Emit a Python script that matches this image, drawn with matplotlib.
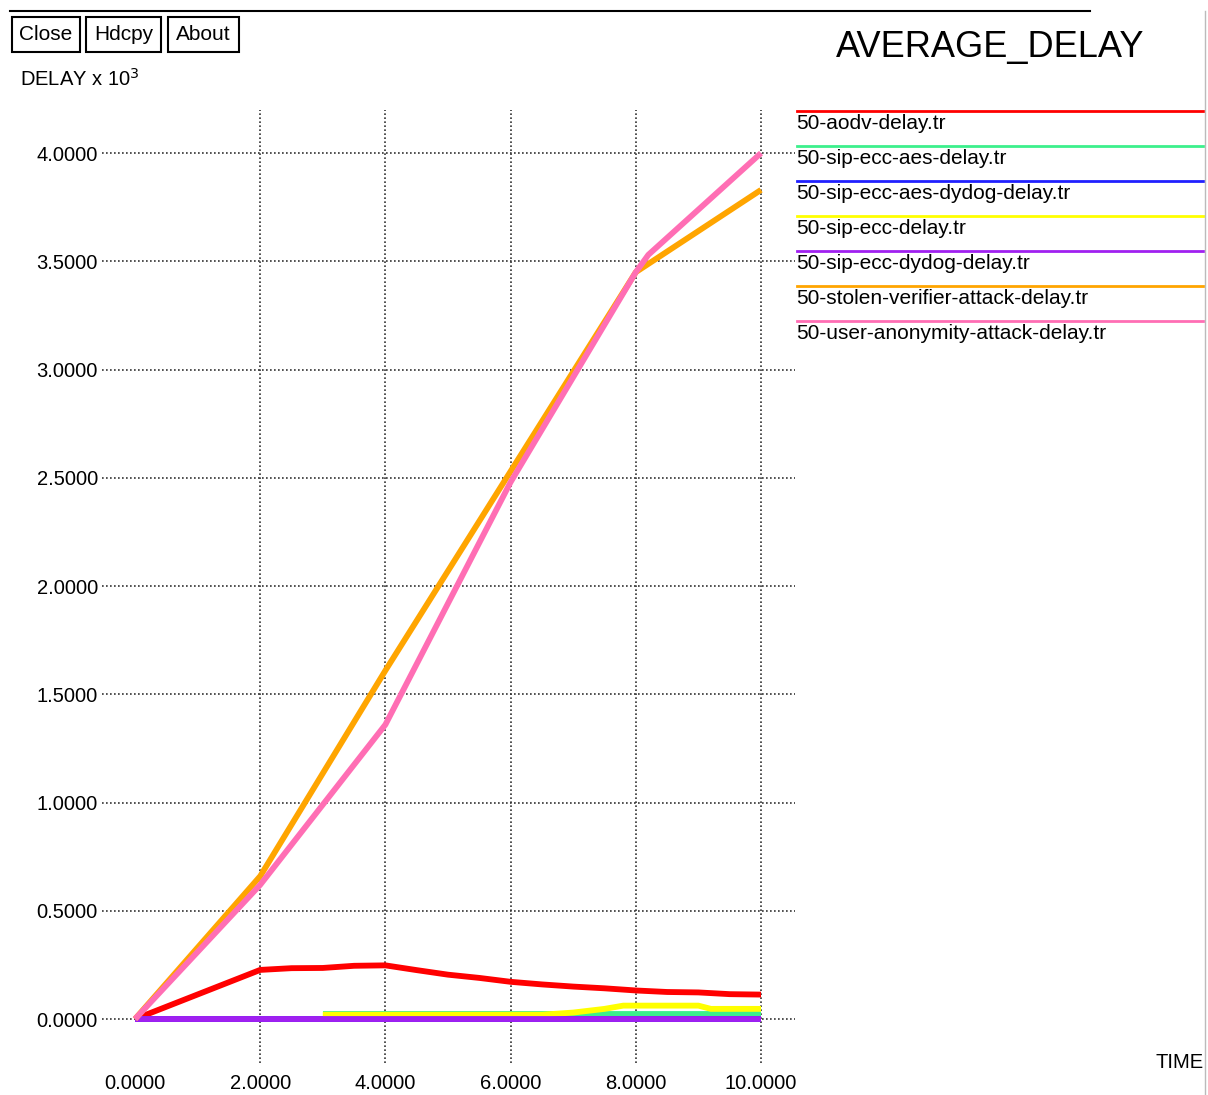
import matplotlib.pyplot as plt
from matplotlib.lines import Line2D
from matplotlib.patches import Rectangle

plt.rcParams['font.family'] = ['Liberation Sans', 'DejaVu Sans']

# series (drawn in this order, last one on top)
names = ['50-aodv-delay.tr', '50-sip-ecc-aes-delay.tr', '50-sip-ecc-aes-dydog-delay.tr',
         '50-sip-ecc-delay.tr', '50-sip-ecc-dydog-delay.tr',
         '50-stolen-verifier-attack-delay.tr', '50-user-anonymity-attack-delay.tr']
colors = ['#ff0000', '#3cf08c', '#2020ff', '#ffff00', '#a020f0', '#ffa500', '#ff6eb4']

aodv_t = [0, 2, 2.5, 3, 3.5, 4, 4.5, 5, 5.5, 6, 6.5, 7, 7.5, 8, 8.5, 9, 9.5, 10]
aodv_d = [0, 0.227, 0.235, 0.236, 0.246, 0.248, 0.226, 0.205, 0.19, 0.172, 0.16, 0.15,
          0.142, 0.132, 0.125, 0.123, 0.115, 0.113]

aes_t = [3, 10]
aes_d = [0.022, 0.022]

aes_dydog_t = [0, 10]
aes_dydog_d = [0, 0]

ecc_t = [3, 6.5, 7, 7.5, 7.8, 9.0, 9.2, 10]
ecc_d = [0.02, 0.02, 0.03, 0.047, 0.062, 0.062, 0.047, 0.047]

ecc_dydog_t = [0, 10]
ecc_dydog_d = [0, 0]

stolen_t = [0, 2, 4, 6, 8, 10]
stolen_d = [0, 0.66, 1.61, 2.53, 3.45, 3.83]

anon_t = [0, 2, 4, 6, 8, 8.2, 10]
anon_d = [0, 0.62, 1.36, 2.48, 3.45, 3.53, 4.0]

xs = [aodv_t, aes_t, aes_dydog_t, ecc_t, ecc_dydog_t, stolen_t, anon_t]
ys = [aodv_d, aes_d, aes_dydog_d, ecc_d, ecc_dydog_d, stolen_d, anon_d]

x_ticks = [0, 2, 4, 6, 8, 10]
y_ticks = [0, 0.5, 1.0, 1.5, 2.0, 2.5, 3.0, 3.5, 4.0]

W, H = 1208, 1095
fig = plt.figure(figsize=(W / 100, H / 100), dpi=100)
ax = fig.add_axes([102 / W, 32 / H, 693 / W, 953 / H])

for t, d, c in zip(xs, ys, colors):
    ax.plot(t, d, color=c, lw=4.2, solid_capstyle='butt', zorder=3)

ax.set_xlim(-0.527, 10.543)
ax.set_ylim(-0.203, 4.199)
ax.set_xticks(x_ticks)
ax.set_xticklabels(['%.4f' % v for v in x_ticks])
ax.set_yticks(y_ticks)
ax.set_yticklabels(['%.4f' % v for v in y_ticks])
ax.tick_params(length=0, labelsize=14.5)
ax.tick_params(axis='y', pad=3)
ax.tick_params(axis='x', pad=8)
for s in ax.spines.values():
    s.set_visible(False)
ax.grid(True, color='#333333', linestyle=(0, (1, 1.4)), lw=1.2, zorder=1)
ax.xaxis.get_gridlines()[0].set_visible(False)

# legend on the right
for i, (n, c) in enumerate(zip(names, colors)):
    y = 1 - (110.7 + 35 * i) / H
    fig.add_artist(Line2D([797 / W, 1203 / W], [y, y], color=c, lw=2,
                          transform=fig.transFigure))
    fig.text(796 / W, y - 13 / H, n, fontsize=15, va='center', ha='left')

fig.text(990 / W, 1 - 48 / H, 'AVERAGE_DELAY', fontsize=26, ha='center', va='center')
fig.text(20 / W, 1 - 79 / H, r'DELAY x 10$^3$', fontsize=14.5, ha='left', va='center')
fig.text(1204 / W, 1 - 1062 / H, 'TIME', fontsize=14.5, ha='right', va='center')

# buttons
for label, x0, x1 in [('Close', 12, 80), ('Hdcpy', 86, 161), ('About', 168, 239)]:
    fig.add_artist(Rectangle((x0 / W, 1 - 52 / H), (x1 - x0) / W, 35 / H,
                             fill=False, ec='black', lw=1.5, transform=fig.transFigure))
    fig.text((x0 + x1) / 2 / W, 1 - 34.5 / H, label, fontsize=15, ha='center', va='center')

# window frame lines
fig.add_artist(Line2D([10 / W, 1090 / W], [1 - 11 / H, 1 - 11 / H], color='black', lw=1.5,
                      transform=fig.transFigure))
fig.add_artist(Line2D([1205 / W, 1205 / W], [1 - 11 / H, 0], color='#bbbbbb', lw=1,
                      transform=fig.transFigure))

fig.savefig('out.png', dpi=100)
